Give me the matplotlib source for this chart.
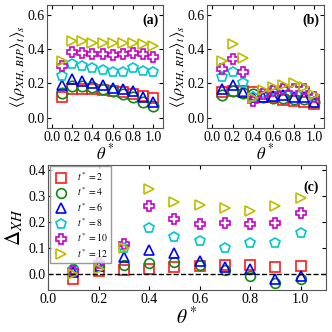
import matplotlib
matplotlib.use("Agg")
import matplotlib.pyplot as plt

plt.rcParams["font.family"] = ["Liberation Serif", "DejaVu Serif"]
plt.rcParams["mathtext.fontset"] = "stix"
plt.rcParams["xtick.direction"] = "in"
plt.rcParams["ytick.direction"] = "in"

theta = [0.1, 0.2, 0.3, 0.4, 0.5, 0.6, 0.7, 0.8, 0.9, 1.0]
t_labels = ["2", "4", "6", "8", "10", "12"]

# panel (a): <<rho_XH,BIP>_t>_s
bip = {
    "2": [0.12, 0.17, 0.17, 0.165, 0.16, 0.155, 0.15, 0.14, 0.125, 0.115],
    "4": [0.145, 0.185, 0.185, 0.18, 0.17, 0.155, 0.14, 0.12, 0.09, 0.07],
    "6": [0.19, 0.225, 0.215, 0.205, 0.19, 0.175, 0.165, 0.155, 0.12, 0.09],
    "8": [0.245, 0.315, 0.30, 0.29, 0.28, 0.27, 0.265, 0.29, 0.275, 0.27],
    "10": [0.30, 0.385, 0.38, 0.37, 0.37, 0.365, 0.37, 0.38, 0.375, 0.355],
    "12": [0.33, 0.45, 0.45, 0.44, 0.44, 0.44, 0.44, 0.44, 0.43, 0.42],
}

# panel (b): <<rho_XH,RIP>_t>_s
rip = {
    "2": [0.15, 0.155, 0.155, 0.15, 0.12, 0.12, 0.105, 0.10, 0.09, 0.08],
    "4": [0.13, 0.155, 0.145, 0.14, 0.12, 0.115, 0.115, 0.11, 0.11, 0.09],
    "6": [0.165, 0.19, 0.15, 0.12, 0.12, 0.125, 0.13, 0.12, 0.12, 0.09],
    "8": [0.235, 0.27, 0.20, 0.12, 0.145, 0.16, 0.17, 0.16, 0.16, 0.12],
    "10": [0.285, 0.345, 0.265, 0.10, 0.14, 0.155, 0.165, 0.17, 0.165, 0.12],
    "12": [0.33, 0.43, 0.35, 0.115, 0.16, 0.18, 0.19, 0.205, 0.18, 0.135],
}

# panel (c): Delta_XH
delta = {
    "2": [-0.02, 0.01, 0.015, 0.02, 0.025, 0.03, 0.035, 0.035, 0.025, 0.03],
    "4": [0.02, 0.03, 0.035, 0.04, 0.045, 0.035, 0.015, -0.008, -0.035, -0.02],
    "6": [0.005, 0.03, 0.065, 0.09, 0.08, 0.05, 0.025, 0.02, -0.02, -0.01],
    "8": [0.015, 0.04, 0.10, 0.175, 0.14, 0.125, 0.10, 0.12, 0.12, 0.155],
    "10": [0.01, 0.04, 0.115, 0.26, 0.21, 0.19, 0.195, 0.19, 0.195, 0.235],
    "12": [0.0, 0.02, 0.10, 0.325, 0.275, 0.265, 0.255, 0.24, 0.26, 0.29],
}

colors = ["#ff1a1a", "#118811", "#0000ff", "#00c8c8", "#cc00cc", "#bdbd00"]
markers = ["s", "o", "^", "p", "P", ">"]

fig = plt.figure(figsize=(3.32, 3.32), dpi=100)
ax_a = fig.add_axes([0.142, 0.615, 0.349, 0.37])
ax_b = fig.add_axes([0.624, 0.615, 0.352, 0.37])
ax_c = fig.add_axes([0.145, 0.127, 0.837, 0.377])


def draw(ax, data, ms):
    for t, c, m in zip(t_labels, colors, markers):
        ax.plot(theta, data[t], linestyle="none", marker=m, ms=ms,
                mfc="none", mec=c, mew=1.2, label=f"$t^*={t}$")


draw(ax_a, bip, 7.5)
draw(ax_b, rip, 7.5)
draw(ax_c, delta, 7)

for ax, lab in [(ax_a, "$\\langle\\langle\\rho_{XH,\\,BIP}\\rangle_t\\rangle_s$"),
                (ax_b, "$\\langle\\langle\\rho_{XH,\\,RIP}\\rangle_t\\rangle_s$")]:
    ax.set_xlim(-0.05, 1.1)
    ax.set_ylim(-0.06, 0.66)
    ax.set_xticks([0.0, 0.2, 0.4, 0.6, 0.8, 1.0])
    ax.set_yticks([0.0, 0.2, 0.4, 0.6])
    ax.set_xlabel("$\\theta^*$", fontsize=12, labelpad=0)
    ax.set_ylabel(lab, fontsize=11.5, labelpad=0)

ax_c.set_xlim(0, 1.1)
ax_c.set_ylim(-0.062, 0.42)
ax_c.set_xticks([0.0, 0.2, 0.4, 0.6, 0.8, 1.0])
ax_c.set_yticks([0.0, 0.1, 0.2, 0.3, 0.4])
ax_c.axhline(0, color="black", ls="--", lw=1)
ax_c.set_xlabel("$\\theta^*$", fontsize=14, labelpad=0)
ax_c.set_ylabel("$\\Delta_{XH}$", fontsize=15, labelpad=2)
ax_c.legend(loc="upper left", fontsize=7, frameon=True, fancybox=False,
            edgecolor="gray", handletextpad=0.8, labelspacing=0.25,
            borderaxespad=0.15, borderpad=0.4, markerscale=1.0,
            handlelength=1.6)

for ax in (ax_a, ax_b, ax_c):
    ax.tick_params(labelsize=10, top=True, right=True, length=3, pad=2)
    for s in ax.spines.values():
        s.set_color("#555555")

ax_a.text(0.96, 0.93, "(a)", transform=ax_a.transAxes, ha="right", va="top",
          fontsize=10, fontweight="bold")
ax_b.text(0.96, 0.93, "(b)", transform=ax_b.transAxes, ha="right", va="top",
          fontsize=10, fontweight="bold")
ax_c.text(0.975, 0.87, "(c)", transform=ax_c.transAxes, ha="right", va="top",
          fontsize=10, fontweight="bold")

fig.savefig("out.png", dpi=100)
